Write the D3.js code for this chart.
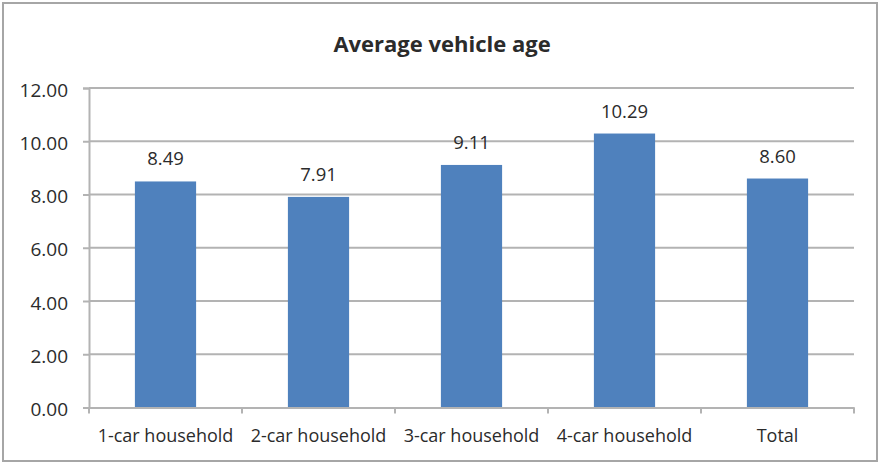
<!DOCTYPE html>
<html>
<head>
<meta charset="utf-8">
<script src="https://cdn.jsdelivr.net/npm/d3@7"></script>
<style>
  html, body { margin: 0; padding: 0; background: #fff; }
  svg { display: block; }
  text { font-family: "Open Sans", "DejaVu Sans", sans-serif; fill: #2b2b2b; }
</style>
</head>
<body>
<script>
// Average vehicle age by household size
const categories = ["1-car household", "2-car household", "3-car household", "4-car household", "Total"];
const values = [8.49, 7.91, 9.11, 10.29, 8.60];
const yTicks = [0, 2, 4, 6, 8, 10, 12];
const title = "Average vehicle age";

const W = 880, H = 463;
const margin = { left: 89, right: 26, top: 88, bottom: 55.5 };

const svg = d3.select("body").append("svg").attr("width", W).attr("height", H);

// outer frame
svg.append("rect")
  .attr("x", 3).attr("y", 3).attr("width", W - 6).attr("height", H - 5)
  .attr("fill", "#fff").attr("stroke", "#a6a6a6").attr("stroke-width", 2);

const x = d3.scaleBand().domain(categories)
  .range([margin.left, W - margin.right]).paddingInner(0.6).paddingOuter(0.3);
const xb = d3.scaleBand().domain(categories).range([margin.left, W - margin.right]);
const y = d3.scaleLinear().domain([0, 12]).range([H - margin.bottom, margin.top]);

// gridlines
svg.append("g").selectAll("line").data(yTicks.filter(d => d > 0)).join("line")
  .attr("x1", margin.left).attr("x2", W - margin.right)
  .attr("y1", d => y(d)).attr("y2", d => y(d))
  .attr("stroke", "#b3b3b3").attr("stroke-width", 2);

// bars
svg.append("g").selectAll("rect").data(values).join("rect")
  .attr("x", (d, i) => x(categories[i]))
  .attr("width", x.bandwidth())
  .attr("y", d => y(d))
  .attr("height", d => y(0) - y(d))
  .attr("fill", "#4f81bd");

// value labels
svg.append("g").selectAll("text").data(values).join("text")
  .attr("x", (d, i) => x(categories[i]) + x.bandwidth() / 2)
  .attr("y", d => y(d) - 16)
  .attr("text-anchor", "middle")
  .attr("font-size", 18.5)
  .text(d => d.toFixed(2));

// y axis
const yAxis = svg.append("g")
  .attr("transform", `translate(${margin.left},0)`)
  .call(d3.axisLeft(y).tickValues(yTicks).tickFormat(d3.format(".2f")).tickSize(6).tickPadding(15));
yAxis.select(".domain").attr("stroke", "#b3b3b3").attr("stroke-width", 2);
yAxis.selectAll(".tick line").attr("stroke", "#b3b3b3").attr("stroke-width", 2);
yAxis.selectAll(".tick text").attr("font-size", 19).attr("fill", "#2b2b2b")
  .attr("font-family", "\"Open Sans\", sans-serif")
  .attr("transform", "translate(0,2)");

// x axis
const xAxis = svg.append("g")
  .attr("transform", `translate(0,${y(0)})`)
  .call(d3.axisBottom(xb).tickSize(0).tickPadding(22));
xAxis.select(".domain").attr("stroke", "#b3b3b3").attr("stroke-width", 2);
xAxis.selectAll(".tick text").attr("font-size", 18).attr("fill", "#2b2b2b")
  .attr("font-family", "\"Open Sans\", sans-serif");

// category boundary ticks
const bounds = categories.map(c => xb(c)).concat([xb(categories[categories.length - 1]) + xb.bandwidth()]);
svg.append("g").selectAll("line").data(bounds).join("line")
  .attr("x1", d => d).attr("x2", d => d)
  .attr("y1", y(0)).attr("y2", y(0) + 6)
  .attr("stroke", "#b3b3b3").attr("stroke-width", 2);

// title
svg.append("text")
  .attr("x", 442).attr("y", 52)
  .attr("text-anchor", "middle")
  .attr("font-size", 22).attr("font-weight", "bold")
  .text(title);
</script>
</body>
</html>
